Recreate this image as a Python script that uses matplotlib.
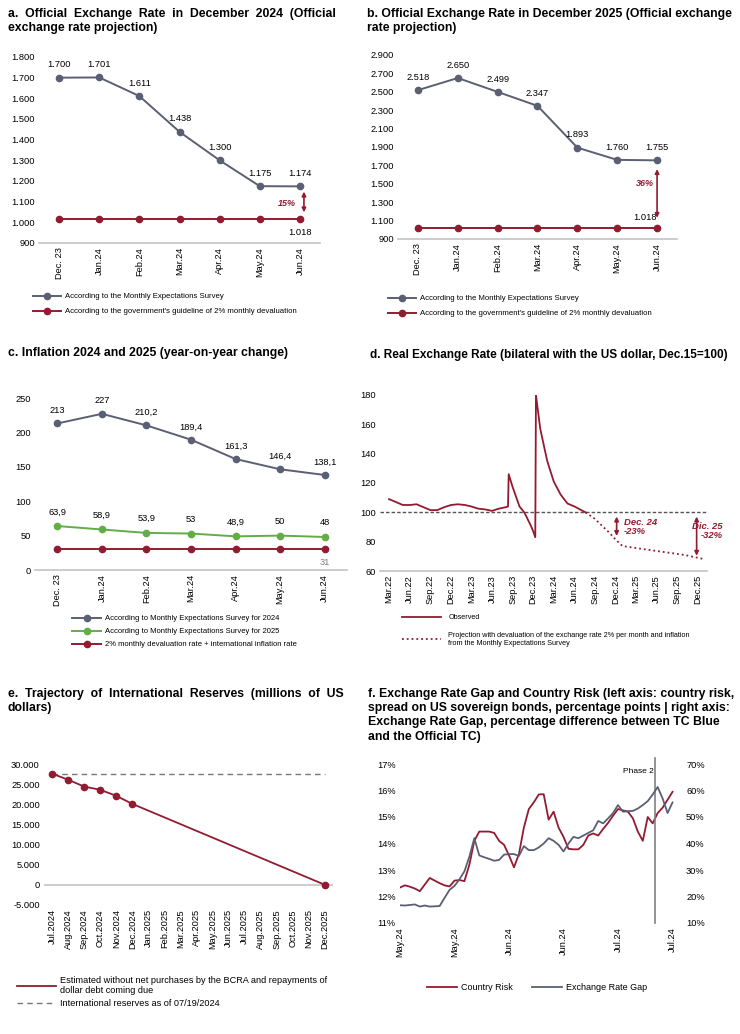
import matplotlib.pyplot as plt
import matplotlib.dates as mdates
from matplotlib.lines import Line2D
import numpy as np
import pandas as pd

plt.rcParams['font.family'] = ['Liberation Sans', 'DejaVu Sans']

GREY = '#5b5f74'
RED = '#931b30'
GREEN = '#62ad45'
AXIS = '#c4c4c4'

# ---------------- data ----------------
months = ['Dec. 23', 'Jan.24', 'Feb.24', 'Mar.24', 'Apr.24', 'May.24', 'Jun.24']

fx24_survey = [1700, 1701, 1611, 1438, 1300, 1175, 1174]
fx24_guide = [1018, 1018, 1018, 1018, 1018, 1018, 1018]
fx25_survey = [2518, 2650, 2499, 2347, 1893, 1760, 1755]
fx25_guide = [1018, 1018, 1018, 1018, 1018, 1018, 1018]

infl24 = [213, 227, 210.2, 189.4, 161.3, 146.4, 138.1]
infl25 = [63.9, 58.9, 53.9, 53, 48.9, 50, 48]
infl_guide = [31, 31, 31, 31, 31, 31, 31]

rer_obs_dates = ['2022-03-01', '2022-04-01', '2022-05-01', '2022-06-01', '2022-07-01',
                 '2022-08-01', '2022-09-01', '2022-10-01', '2022-11-01', '2022-12-01',
                 '2023-01-01', '2023-02-01', '2023-03-01', '2023-04-01', '2023-05-01',
                 '2023-06-01', '2023-07-01', '2023-08-01', '2023-08-11', '2023-08-14',
                 '2023-09-01', '2023-10-01', '2023-10-22', '2023-11-01', '2023-11-20',
                 '2023-12-01', '2023-12-10', '2023-12-13', '2024-01-01', '2024-02-01',
                 '2024-03-01', '2024-04-01', '2024-05-01', '2024-06-01', '2024-07-01',
                 '2024-07-20']
rer_obs = [109, 107, 105, 105, 105.5, 103.5, 101.5, 101.5, 103.5, 105,
           105.5, 105, 104, 102.5, 102, 101, 102.5, 103.5, 104, 126,
           117, 104, 100, 97, 91, 87, 83, 180, 157, 135,
           121, 112, 106, 104, 101.5, 100]
rer_proj_dates = ['2024-07-20', '2024-08-31', '2024-09-30', '2024-10-31', '2024-11-30',
                  '2024-12-31', '2025-03-31', '2025-06-30', '2025-09-30', '2025-12-31']
rer_proj = [100, 95.5, 91, 86.5, 81.5, 77, 75, 73, 71, 68]

res_months = ['Jul.2024', 'Aug.2024', 'Sep.2024', 'Oct.2024', 'Nov.2024', 'Dec.2024',
              'Jan.2025', 'Feb.2025', 'Mar.2025', 'Apr.2025', 'May.2025', 'Jun.2025',
              'Jul.2025', 'Aug.2025', 'Sep.2025', 'Oct.2025', 'Nov.2025', 'Dec.2025']
reserves = [27600, 26100, 24400, 23600, 22100, 20100, np.nan, np.nan, np.nan, np.nan,
            np.nan, np.nan, np.nan, np.nan, np.nan, np.nan, np.nan, 0]
reserves_0719 = 27600

country_risk = [12.34, 12.42, 12.37, 12.3, 12.2, 12.45, 12.7, 12.6, 12.5, 12.42,
                12.38, 12.6, 12.62, 12.58, 13.2, 14.1, 14.45, 14.45, 14.45, 14.4,
                14.1, 13.95, 13.55, 13.1, 13.6, 14.6, 15.3, 15.55, 15.85, 15.86,
                14.9, 15.2, 14.6, 14.25, 13.8, 13.78, 13.78, 13.95, 14.3, 14.38,
                14.3, 14.55, 14.78, 15.05, 15.3, 15.25, 15.2, 14.95, 14.45, 14.1,
                15.0, 14.76, 15.15, 15.35, 15.65, 15.95]
fx_gap = [16.7, 16.6, 16.8, 17.0, 16.2, 16.6, 16.2, 16.3, 16.4, 19.5,
          22.5, 24.0, 26.5, 29.5, 35.0, 42.0, 35.5, 34.8, 34.2, 33.5,
          33.8, 35.8, 36.0, 36.0, 35.3, 39.0, 37.5, 37.5, 38.5, 40.0,
          42.0, 41.0, 39.5, 37.0, 40.0, 42.5, 42.0, 43.0, 44.0, 45.0,
          48.5, 47.6, 49.5, 51.5, 54.5, 52.0, 52.2, 52.3, 53.2, 54.5,
          56.0, 58.5, 61.3, 57.0, 51.5, 55.5]
gap_ticks = ['May.24', 'May.24', 'Jun.24', 'Jun.24', 'Jul.24', 'Jul.24']


def thousands(v):
    return f"{v:,.0f}".replace(",", ".")


def decimal(v):
    return f"{v:g}".replace(".", ",")


fig = plt.figure(figsize=(7.4, 10.34), dpi=100)
W, H = 740, 1034


def rect(x0, x1, ytop, ybot):
    return [x0 / W, 1 - ybot / H, (x1 - x0) / W, (ybot - ytop) / H]


def clean(ax):
    for s in ['top', 'right', 'left']:
        ax.spines[s].set_visible(False)
    ax.spines['bottom'].set_color(AXIS)
    ax.spines['bottom'].set_linewidth(1.2)
    ax.tick_params(axis='both', length=0, labelsize=6.7, pad=3)


def title(x, y, text, size=8.8):
    fig.text(x / W, 1 - y / H, text, fontsize=size, fontweight='bold', va='top',
             ha='left', linespacing=1.25)


def legend(ax, handles, labels, x, y, **kw):
    opts = dict(loc='upper left', bbox_to_anchor=(x / W, 1 - y / H),
                bbox_transform=fig.transFigure, frameon=False, fontsize=5.6,
                handlelength=3.6, borderaxespad=0, borderpad=0,
                labelspacing=0.95, handletextpad=0.5)
    opts.update(kw)
    ax.legend(handles, labels, **opts)


x = np.arange(len(months))
mk = dict(marker='o', markersize=4.5, lw=1.4)

# ---------------- a ----------------
title(8, 8, "a.  Official  Exchange  Rate  in  December  2024  (Official\nexchange rate projection)")
ax = fig.add_axes(rect(39, 320, 57, 243))
clean(ax)
l1, = ax.plot(x, fx24_survey, color=GREY, **mk)
l2, = ax.plot(x, fx24_guide, color=RED, **mk)
for xi, v in zip(x, fx24_survey):
    ax.annotate(thousands(v), (xi, v), xytext=(0, 6), textcoords='offset points',
                ha='center', va='bottom', fontsize=6.7)
ax.annotate(thousands(fx24_guide[-1]), (x[-1], fx24_guide[-1]), xytext=(0, -7),
            textcoords='offset points', ha='center', va='top', fontsize=6.7)
ax.annotate('', xy=(x[-1] + 0.1, 1035), xytext=(x[-1] + 0.1, 1162),
            arrowprops=dict(arrowstyle='<|-|>', color=RED, lw=1.2, mutation_scale=6))
ax.text(x[-1] - 0.1, 1090, '15%', color=RED, fontsize=6.5, fontstyle='italic',
        fontweight='bold', ha='right', va='center')
ax.set_xlim(-0.5, 6.5)
ax.set_ylim(900, 1800)
ax.set_yticks(range(900, 1801, 100))
ax.set_yticklabels([thousands(t) for t in range(900, 1801, 100)])
ax.set_xticks(x)
ax.set_xticklabels(months, rotation=90)
legend(ax, [l1, l2], ['According to the Monthly Expectations Survey',
                      "According to the government's guideline of 2% monthly devaluation"],
       33, 293)

# ---------------- b ----------------
title(367, 8, "b. Official Exchange Rate in December 2025 (Official exchange\nrate projection)")
ax = fig.add_axes(rect(398, 677, 55, 239))
clean(ax)
l1, = ax.plot(x, fx25_survey, color=GREY, **mk)
l2, = ax.plot(x, fx25_guide, color=RED, **mk)
for xi, v in zip(x, fx25_survey):
    ax.annotate(thousands(v), (xi, v), xytext=(0, 6), textcoords='offset points',
                ha='center', va='bottom', fontsize=6.7)
ax.annotate(thousands(fx25_guide[-1]), (x[-1] - 0.3, 1080), ha='center', va='bottom',
            fontsize=6.7)
ax.annotate('', xy=(x[-1], 1100), xytext=(x[-1], 1690),
            arrowprops=dict(arrowstyle='<|-|>', color=RED, lw=1.2, mutation_scale=6))
ax.text(x[-1] - 0.3, 1500, '36%', color=RED, fontsize=6.5, fontstyle='italic',
        fontweight='bold', ha='center', va='center')
ax.set_xlim(-0.5, 6.5)
ax.set_ylim(900, 2900)
ax.set_yticks(range(900, 2901, 200))
ax.set_yticklabels([thousands(t) for t in range(900, 2901, 200)])
ax.set_xticks(x)
ax.set_xticklabels(months, rotation=90)
legend(ax, [l1, l2], ['According to the Monthly Expectations Survey',
                      "According to the government's guideline of 2% monthly devaluation"],
       388, 295)

# ---------------- c ----------------
title(8, 347, "c. Inflation 2024 and 2025 (year-on-year change)")
ax = fig.add_axes(rect(35, 347, 398, 570))
clean(ax)
l1, = ax.plot(x, infl24, color=GREY, **mk)
l2, = ax.plot(x, infl25, color=GREEN, **mk)
l3, = ax.plot(x, infl_guide, color=RED, **mk)
for xi, v in zip(x, infl24):
    ax.annotate(decimal(v), (xi, v), xytext=(0, 6), textcoords='offset points',
                ha='center', va='bottom', fontsize=6.7)
for xi, v in zip(x, infl25):
    ax.annotate(decimal(v), (xi, v), xytext=(0, 7), textcoords='offset points',
                ha='center', va='bottom', fontsize=6.7)
ax.annotate(decimal(infl_guide[-1]), (x[-1], infl_guide[-1]), xytext=(0, -7),
            textcoords='offset points', ha='center', va='top', fontsize=6.7,
            color='#808080')
ax.set_xlim(-0.5, 6.5)
ax.set_ylim(0, 250)
ax.set_yticks(range(0, 251, 50))
ax.set_xticks(x)
ax.set_xticklabels(months, rotation=90)
legend(ax, [l1, l2, l3], ['According to Monthly Expectations Survey for 2024',
                          'According to Monthly Expectations Survey for 2025',
                          '2% monthly devaluation rate + international inflation rate'],
       72, 615, labelspacing=0.75, fontsize=5.5, handlelength=3.8)

# ---------------- d ----------------
title(370, 349, "d. Real Exchange Rate (bilateral with the US dollar, Dec.15=100)", size=8.5)
ax = fig.add_axes(rect(380, 707, 395, 571))
clean(ax)
ax.axhline(100, color='#555555', lw=1.0, dashes=(2.5, 1.5))
l1, = ax.plot(pd.to_datetime(rer_obs_dates), rer_obs, color=RED, lw=1.3)
l2, = ax.plot(pd.to_datetime(rer_proj_dates), rer_proj, color=RED, lw=1.3, ls=':')
d24 = pd.Timestamp('2024-12-05')
d25 = pd.Timestamp('2025-11-25')
ax.annotate('', xy=(d24, 82), xytext=(d24, 99),
            arrowprops=dict(arrowstyle='<|-|>', color=RED, lw=1.2, mutation_scale=6))
ax.annotate('', xy=(d25, 68.5), xytext=(d25, 99),
            arrowprops=dict(arrowstyle='<|-|>', color=RED, lw=1.2, mutation_scale=6))
ax.text(pd.Timestamp('2025-01-05'), 90, 'Dec. 24\n-23%', color=RED, fontsize=6.8,
        fontstyle='italic', fontweight='bold', ha='left', va='center', linespacing=1.0)
ax.text(pd.Timestamp('2026-03-20'), 87, 'Dic. 25\n-32%', color=RED, fontsize=6.8,
        fontstyle='italic', fontweight='bold', ha='right', va='center', linespacing=1.0,
        clip_on=False)
ax.set_xlim(pd.Timestamp('2022-01-20'), pd.Timestamp('2026-01-10'))
ax.set_ylim(60, 180)
ax.set_yticks(range(60, 181, 20))
ax.xaxis.set_major_locator(mdates.MonthLocator(bymonth=[3, 6, 9, 12]))
ax.xaxis.set_major_formatter(mdates.DateFormatter('%b.%y'))
plt.setp(ax.get_xticklabels(), rotation=90)
legend(ax, [l1, l2], ['Observed',
                      'Projection with devaluation of the exchange rate 2% per month and inflation\nfrom the Monthly Expectations Survey'],
       402, 614, labelspacing=1.5, handlelength=5.4, handletextpad=1.0, fontsize=5.2)

# ---------------- e ----------------
title(8, 688, "e.  Trajectory  of  International  Reserves  (millions  of  US\ndollars)")
ax = fig.add_axes(rect(44, 333, 764, 905))
clean(ax)
ax.spines['bottom'].set_visible(False)
xe = np.arange(len(res_months))
res = np.array(reserves)
ok = ~np.isnan(res)
ax.axhline(0, color=AXIS, lw=1.2)
ax.hlines(reserves_0719, xe[0], xe[-1], color='#777777', lw=1.0, linestyles=(0, (4, 3)))
l1, = ax.plot(xe[ok], res[ok], color=RED, lw=1.3)
ax.plot(xe[ok], res[ok], 'o', color=RED, markersize=4.5)
ax.set_xlim(-0.5, 17.5)
ax.set_ylim(-5000, 30000)
ax.set_yticks(range(-5000, 30001, 5000))
ax.set_yticklabels([thousands(t) for t in range(-5000, 30001, 5000)])
ax.set_xticks(xe)
ax.set_xticklabels(res_months, rotation=90)
legend(ax, [l1, Line2D([], [], color='#777777', lw=1.0, ls=(0, (4, 3)))],
       ['Estimated without net purchases by the BCRA and repayments of\ndollar debt coming due',
        'International reserves as of 07/19/2024'],
       17, 976, handlelength=4.2, labelspacing=0.4, fontsize=6.6)

# ---------------- f ----------------
title(368, 688, "f. Exchange Rate Gap and Country Risk (left axis: country risk,\n"
      "spread on US sovereign bonds, percentage points | right axis:\n"
      "Exchange Rate Gap, percentage difference between TC Blue\n"
      "and the Official TC)")
ax = fig.add_axes(rect(400, 675, 764, 923))
for s in ax.spines.values():
    s.set_visible(False)
ax.tick_params(axis='both', length=0, labelsize=6.7, pad=3)
xf = np.arange(len(country_risk))
l1, = ax.plot(xf, country_risk, color=RED, lw=1.3)
ax.set_ylim(11, 17)
ax.set_yticks(range(11, 18))
ax.set_yticklabels([f"{t}%" for t in range(11, 18)])
ax.set_xlim(0, 55.5)
ax.set_xticks([0, 11, 22, 33, 44, 55])
ax.set_xticklabels(gap_ticks, rotation=90)
ax.axvline(51.5, ymin=0, ymax=1.04, color='#808080', lw=1.2, clip_on=False)
ax.text(51.2, 16.85, 'Phase 2', fontsize=6, ha='right', va='top')
ax2 = ax.twinx()
for s in ax2.spines.values():
    s.set_visible(False)
ax2.tick_params(axis='both', length=0, labelsize=6.7, pad=8)
l2, = ax2.plot(xf, fx_gap, color=GREY, lw=1.3)
ax2.set_ylim(10, 70)
ax2.set_yticks(range(10, 71, 10))
ax2.set_yticklabels([f"{t}%" for t in range(10, 71, 10)])
ax2.legend([l1, l2], ['Country Risk', 'Exchange Rate Gap'], loc='upper left',
           bbox_to_anchor=(427 / W, 1 - 983 / H), bbox_transform=fig.transFigure,
           frameon=False, fontsize=6.5, ncol=2, handlelength=3.3, columnspacing=2.1,
           borderaxespad=0, borderpad=0, handletextpad=0.5)

fig.savefig('out.png', dpi=100)
